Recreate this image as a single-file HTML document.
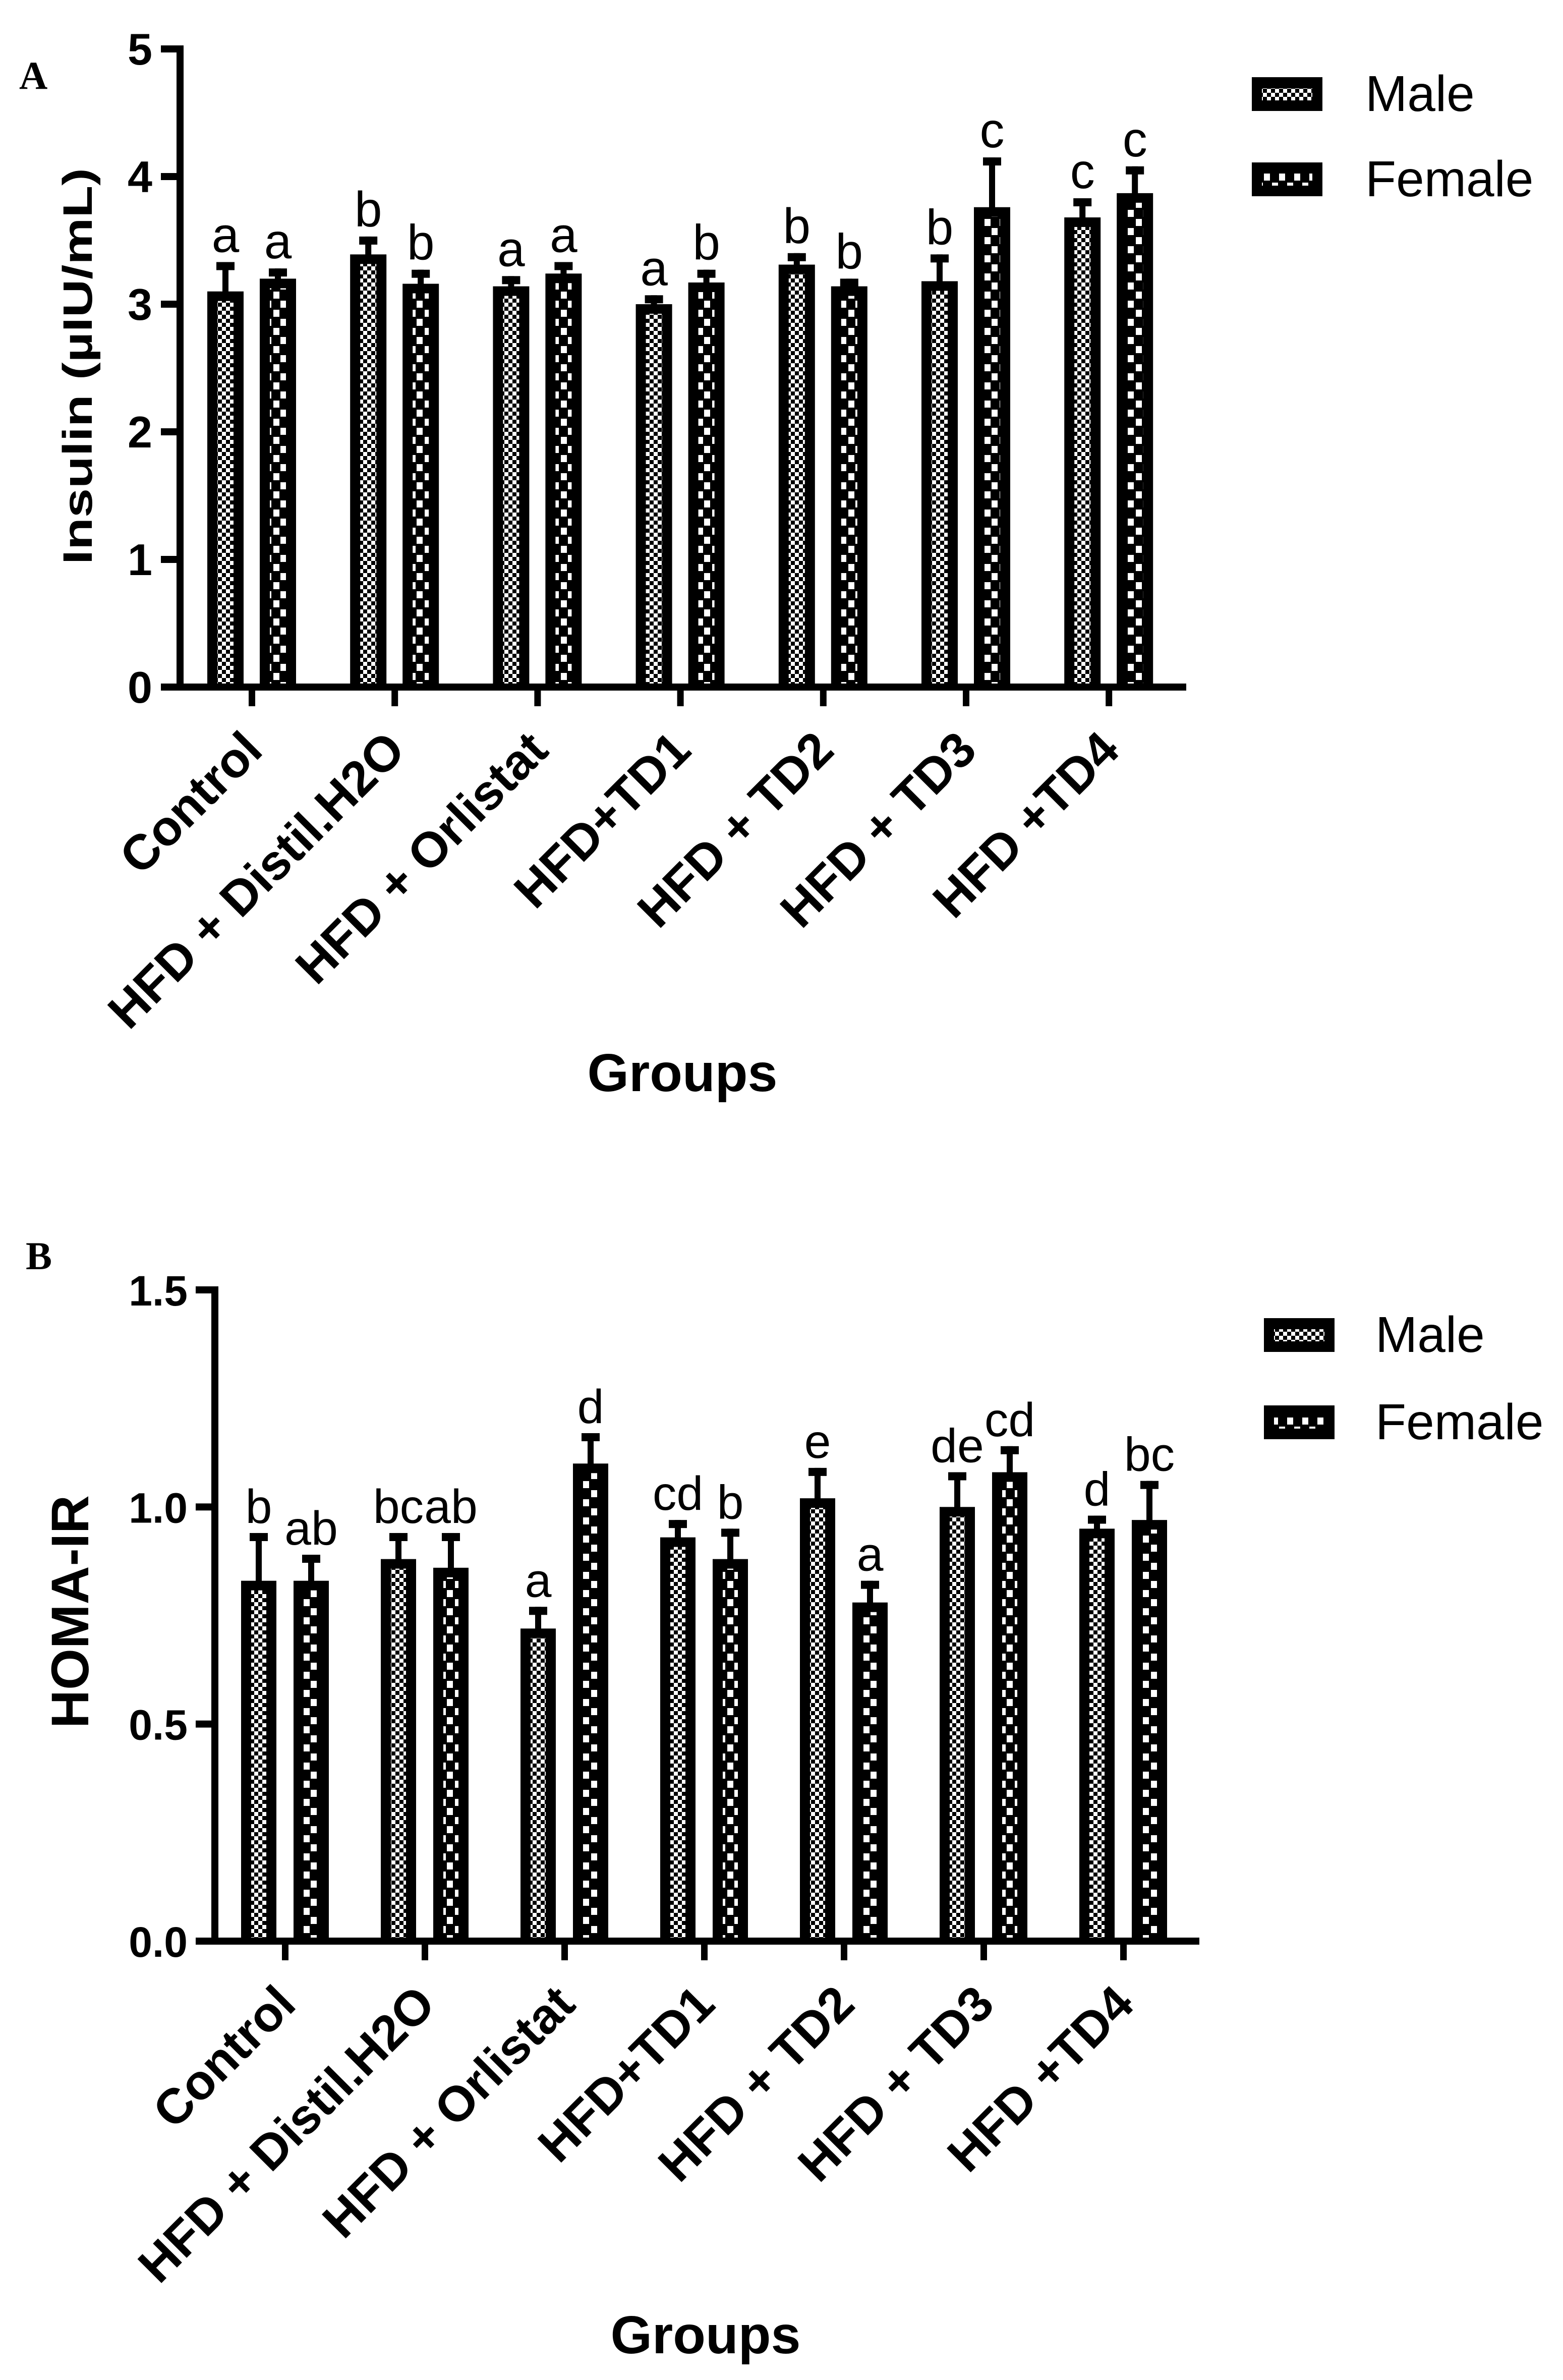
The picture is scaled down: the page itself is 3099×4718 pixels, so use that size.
<!DOCTYPE html>
<html><head><meta charset="utf-8"><style>
html,body{margin:0;padding:0;background:#fff;}
svg{display:block;}
text{font-family:"Liberation Sans",Arial,sans-serif;fill:#000;}
</style></head><body>
<svg id="fig" width="3099" height="4718" viewBox="0 0 3099 4718" xmlns="http://www.w3.org/2000/svg">
<defs>
<pattern id="pm" patternUnits="userSpaceOnUse" width="16" height="16"><rect width="16" height="16" fill="#000"/><rect x="0" y="0" width="8" height="8" fill="#fff"/><rect x="8" y="8" width="8" height="8" fill="#fff"/></pattern>
<pattern id="pf" patternUnits="userSpaceOnUse" width="30" height="36"><rect width="30" height="36" fill="#000"/><rect x="2" y="2" width="12" height="14" fill="#fff"/><rect x="16" y="20" width="12" height="14" fill="#fff"/></pattern>
</defs>
<g id="chartA"></g>
<g id="chartB"></g>
</svg>
<script>
const groups = ["Control","HFD + Distil.H2O","HFD + Orlistat","HFD+TD1","HFD + TD2","HFD + TD3","HFD +TD4"];
const insulinMale = [3.10,3.39,3.14,3.00,3.31,3.18,3.68];
const insulinMaleErr = [3.33,3.53,3.22,3.07,3.40,3.39,3.83];
const insulinFemale = [3.20,3.16,3.24,3.17,3.14,3.76,3.87];
const insulinFemaleErr = [3.28,3.27,3.33,3.27,3.20,4.15,4.08];
const insulinMaleLetters = ["a","b","a","a","b","b","c"];
const insulinFemaleLetters = ["a","b","a","b","b","c","c"];
const insulinTicks = [0,1,2,3,4,5];
const insulinTickLabels = ["0","1","2","3","4","5"];
const homaMale = [0.83,0.88,0.72,0.93,1.02,1.00,0.95];
const homaMaleErr = [0.94,0.94,0.77,0.97,1.09,1.08,0.98];
const homaFemale = [0.83,0.86,1.10,0.88,0.78,1.08,0.97];
const homaFemaleErr = [0.89,0.94,1.17,0.95,0.83,1.14,1.06];
const homaMaleLetters = ["b","bc","a","cd","e","de","d"];
const homaFemaleLetters = ["ab","ab","d","b","a","cd","bc"];
const homaTicks = [0,0.5,1.0,1.5];
const homaTickLabels = ["0.0","0.5","1.0","1.5"];
const seriesNames = ["Male","Female"];

const NS="http://www.w3.org/2000/svg";
function mk(parent,tag,attrs,txt){const e=document.createElementNS(NS,tag);for(const k in attrs)e.setAttribute(k,attrs[k]);if(txt!==undefined)e.textContent=txt;parent.appendChild(e);return e;}

function drawChart(g,cfg){
  const y=v=>cfg.y0-(v-0)*(cfg.y0-cfg.yTop)/cfg.vmax;
  const xc=i=>cfg.c0+i*cfg.pitch;
  let t=mk(g,'text',{x:cfg.panelX,y:cfg.panelY,style:'font-family:"Liberation Serif",serif;font-weight:bold;font-size:78px'});
  t.textContent=cfg.panel;
  
  
  t=mk(g,'text',{x:0,y:0,transform:`translate(${cfg.ytX},${cfg.ytY}) rotate(-90)`,'text-anchor':'middle','font-weight':'bold','font-size':cfg.ytSize,textLength:cfg.ytLen,lengthAdjust:'spacingAndGlyphs'});
  t.textContent=cfg.ytitle;
  
  
  const series=[[cfg.male,cfg.maleErr,cfg.maleL,'url(#pm)',-52,'male'],[cfg.female,cfg.femaleErr,cfg.femaleL,'url(#pf)',52,'female']];
  for(let i=0;i<groups.length;i++){
    for(const s of series){
      const cx=xc(i)+s[4], bw=cfg.bw, top=y(s[0][i]), et=y(s[1][i]);
      let e=mk(g,'rect',{x:cx-6,y:et,width:12,height:top-et+2,fill:'#000'});
      
      
      mk(g,'rect',{x:cx-18,y:et,width:36,height:16,fill:'#000'});
      let b=mk(g,'rect',{x:cx-bw/2,y:top,width:bw,height:cfg.y0-top,fill:'#000'});
      
      
      mk(g,'rect',{x:cx-bw/2+20,y:top+19,width:bw-40,height:Math.max(0,cfg.y0-top-19),fill:s[3]});
      let l=mk(g,'text',{x:cx,y:et-20,'text-anchor':'middle','font-size':cfg.letSize});
      l.textContent=s[2][i];
      
      
    }
    mk(g,'rect',{x:xc(i)-6,y:cfg.y0,width:13,height:38,fill:'#000'});
    let lb=mk(g,'text',{x:0,y:0,transform:`translate(${xc(i)+26},${cfg.y0+130}) rotate(-45)`,'text-anchor':'end','font-weight':'bold','font-size':98});
    lb.textContent=groups[i];
    
    
  }
  let ax=mk(g,'rect',{x:cfg.axX-7,y:cfg.yTop-7,width:14,height:cfg.y0-cfg.yTop+14,fill:'#000'});
  
  
  let xa=mk(g,'rect',{x:cfg.axX-38,y:cfg.y0-7,width:cfg.xEnd-cfg.axX+38,height:14,fill:'#000'});
  
  
  for(let k=0;k<cfg.ticks.length;k++){
    const ty=y(cfg.ticks[k]);
    mk(g,'rect',{x:cfg.axX-38,y:ty-7,width:38,height:14,fill:'#000'});
    let tl=mk(g,'text',{x:cfg.tlX,y:ty+31,'text-anchor':'end','font-weight':'bold','font-size':cfg.tlSize});
    tl.textContent=cfg.tickLabels[k];
    
    
  }
  t=mk(g,'text',{x:cfg.xtX,y:cfg.xtY,'text-anchor':'middle','font-weight':'bold','font-size':106});
  t.textContent='Groups';
  
  
  for(let k=0;k<2;k++){
    const ly=cfg.legY[k];
    let sw=mk(g,'rect',{x:cfg.legX,y:ly,width:140,height:67,fill:'#000'});
    
    
    mk(g,'rect',{x:cfg.legX+20,y:ly+22,width:100,height:24,fill:k?'url(#pf)':'url(#pm)'});
    let lt=mk(g,'text',{x:cfg.legTX,y:ly+67,'font-size':100});
    lt.textContent=seriesNames[k];
    
    
  }
}

drawChart(document.getElementById('chartA'),{
  panel:'A',panelX:38,panelY:176,ytitle:'Insulin (µIU/mL)',ytX:182,ytY:726,ytSize:82,ytLen:786,
  y0:1362,yTop:97,vmax:5,c0:499,pitch:283.2,bw:72,axX:357,xEnd:2352,
  male:insulinMale,maleErr:insulinMaleErr,female:insulinFemale,femaleErr:insulinFemaleErr,
  maleL:insulinMaleLetters,femaleL:insulinFemaleLetters,letSize:98,
  ticks:insulinTicks,tickLabels:insulinTickLabels,tlX:302,tlSize:88,
  xtX:1353,xtY:2163,legX:2482,legY:[153,322],legTX:2707
});
drawChart(document.getElementById('chartB'),{
  panel:'B',panelX:51,panelY:2516,ytitle:'HOMA-IR',ytX:175,ytY:3195,ytSize:105,ytLen:462,
  y0:3848,yTop:2557,vmax:1.5,c0:565,pitch:277,bw:70,axX:426,xEnd:2378,
  male:homaMale,maleErr:homaMaleErr,female:homaFemale,femaleErr:homaFemaleErr,
  maleL:homaMaleLetters,femaleL:homaFemaleLetters,letSize:95,
  ticks:homaTicks,tickLabels:homaTickLabels,tlX:372,tlSize:84,
  xtX:1399,xtY:4665,legX:2506,legY:[2613,2786],legTX:2727
});
</script>
</body></html>
